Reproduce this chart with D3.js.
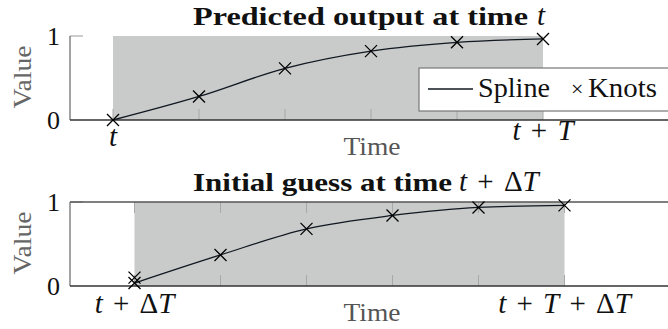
<!DOCTYPE html>
<html>
<head>
<meta charset="utf-8">
<script src="https://cdn.jsdelivr.net/npm/d3@7"></script>
<style>
  body { margin: 0; background: #fff; }
  svg { display: block; font-family: "Liberation Serif", "DejaVu Serif", serif; }
</style>
</head>
<body>
<svg width="668" height="329"></svg>
<script>
// knot positions are in units of one knot interval, t = 0
var topKnotX = [0, 1, 2, 3, 4, 5];
var topKnotY = [0, 0.28, 0.615, 0.82, 0.925, 0.965];
var bottomKnotX = [0.25, 1.25, 2.25, 3.25, 4.25, 5.25];
var bottomKnotY = [0.035, 0.37, 0.68, 0.84, 0.935, 0.96];
var bottomExtraX = [0.25];
var bottomExtraY = [0.1];
var yTicks = [0, 1];
var topTickLabels = [{x: 0, label: [["t", 1]], w: 0},
                     {x: 5, label: [["t", 1], [" + ", 0], ["T", 1]], w: 62}];
var bottomTickLabels = [{x: 0.25, label: [["t", 1], [" + Δ", 0], ["T", 1]], w: 90},
                        {x: 5.25, label: [["t", 1], [" + ", 0], ["T", 1], [" + Δ", 0], ["T", 1]], w: 134}];

var svg = d3.select("svg");
var x = d3.scaleLinear().domain([-0.5, 6.5]).range([70, 672]);

function cross(g, px, py, r) {
	g.append("path")
	    .attr("d", "M" + (px - r) + "," + (py - r) + "L" + (px + r) + "," + (py + r) +
	               "M" + (px - r) + "," + (py + r) + "L" + (px + r) + "," + (py - r))
	    .attr("stroke", "#000")
	    .attr("stroke-width", 1.3)
	    .attr("fill", "none");
}

// math label: widen the spaces round the operators a little towards width w
function mathText(g, px, py, parts, anchor, w) {
	var t = g.append("text")
	    .attr("x", px).attr("y", py)
	    .attr("text-anchor", anchor || "middle")
	    .attr("font-size", 29)
	    .attr("fill", "#111");
	var spaces = 0;
	parts.forEach(function (p) {
		t.append("tspan").text(p[0]).attr("font-style", p[1] ? "italic" : "normal");
		spaces += (p[0].match(/ /g) || []).length;
	});
	if (w && spaces) {
		var natural = t.node().getComputedTextLength();
		t.attr("word-spacing", Math.min(3, Math.max(0, (w - natural) / spaces)));
	}
	return t;
}

function fit(t, w) {
	t.attr("textLength", w).attr("lengthAdjust", "spacingAndGlyphs");
	return t;
}

function panel(opt) {
	var g = svg.append("g");
	var y = d3.scaleLinear().domain([0, 1]).range([opt.bottom, opt.top]);
	var knotX = opt.knotX, knotY = opt.knotY;

	// shaded horizon
	g.append("rect")
	    .attr("x", x(knotX[0]))
	    .attr("y", y(1))
	    .attr("width", x(knotX[knotX.length - 1]) - x(knotX[0]))
	    .attr("height", y(0) - y(1))
	    .attr("fill", "#c9caca");

	// ticks
	knotX.forEach(function (k) {
		g.append("line").attr("x1", x(k)).attr("x2", x(k))
		    .attr("y1", opt.bottom).attr("y2", opt.bottom - 11)
		    .attr("stroke", "#a8a8a8").attr("stroke-width", 1);
		if (opt.box) {
			g.append("line").attr("x1", x(k)).attr("x2", x(k))
			    .attr("y1", opt.top).attr("y2", opt.top + 11)
			    .attr("stroke", "#a8a8a8").attr("stroke-width", 1);
		}
	});
	g.append("line").attr("x1", 70).attr("x2", 83)
	    .attr("y1", y(1)).attr("y2", y(1))
	    .attr("stroke", "#999").attr("stroke-width", 1);

	// axis lines
	g.append("line").attr("x1", 70).attr("x2", 70)
	    .attr("y1", opt.top).attr("y2", opt.bottom)
	    .attr("stroke", "#666").attr("stroke-width", 1.2);
	g.append("line").attr("x1", 70).attr("x2", 672)
	    .attr("y1", opt.bottom).attr("y2", opt.bottom)
	    .attr("stroke", "#333").attr("stroke-width", 1.3);
	if (opt.box) {
		g.append("line").attr("x1", 70).attr("x2", 672)
		    .attr("y1", opt.top).attr("y2", opt.top)
		    .attr("stroke", "#555").attr("stroke-width", 1.3);
	}

	// y tick labels
	yTicks.forEach(function (v) {
		g.append("text")
		    .attr("x", 60).attr("y", y(v))
		    .attr("dy", "0.35em")
		    .attr("text-anchor", "end")
		    .attr("font-size", 26)
		    .attr("fill", "#111")
		    .text(v);
	});

	// x tick labels
	opt.tickLabels.forEach(function (d, i) {
		mathText(g, x(d.x), opt.bottom + opt.labelOffsets[i], d.label, "middle", d.w);
	});

	// axis labels
	fit(g.append("text")
	    .attr("transform", "translate(31," + ((opt.top + opt.bottom) / 2 - 1) + ") rotate(-90)")
	    .attr("text-anchor", "middle")
	    .attr("font-size", 26)
	    .attr("fill", "#666")
	    .text("Value"), 63);
	fit(g.append("text")
	    .attr("x", 372).attr("y", opt.bottom + 35)
	    .attr("text-anchor", "middle")
	    .attr("font-size", 26)
	    .attr("fill", "#555")
	    .text("Time"), 57);

	// spline through knots
	var line = d3.line()
	    .x(function (d, i) { return x(knotX[i]); })
	    .y(function (d) { return y(d); })
	    .curve(d3.curveMonotoneX);
	g.append("path")
	    .attr("d", line(knotY))
	    .attr("fill", "none")
	    .attr("stroke", "#101820")
	    .attr("stroke-width", 1.3);

	knotY.forEach(function (v, i) { cross(g, x(knotX[i]), y(v), 6); });
	if (opt.extraX) {
		opt.extraY.forEach(function (v, i) { cross(g, x(opt.extraX[i]), y(v), 6); });
	}

	// title
	fit(g.append("text")
	    .attr("x", 193).attr("y", opt.titleY)
	    .attr("font-size", 25)
	    .attr("font-weight", "bold")
	    .attr("fill", "#111")
	    .text(opt.title), opt.titleLen);
	mathText(g, opt.mathX, opt.titleY, opt.titleMath, "start", opt.mathLen);
	return g;
}

panel({
	top: 36, bottom: 120, box: false,
	knotX: topKnotX, knotY: topKnotY,
	tickLabels: topTickLabels, labelOffsets: [26, 20],
	title: "Predicted output at time", titleLen: 335, titleY: 25,
	mathX: 537, titleMath: [["t", 1]], mathLen: 0
});

panel({
	top: 202, bottom: 286, box: true,
	knotX: bottomKnotX, knotY: bottomKnotY,
	extraX: bottomExtraX, extraY: bottomExtraY,
	tickLabels: bottomTickLabels, labelOffsets: [27, 27],
	title: "Initial guess at time", titleLen: 259, titleY: 191,
	mathX: 459, titleMath: [["t", 1], [" + Δ", 0], ["T", 1]], mathLen: 90
});

// legend
var lg = svg.append("g");
lg.append("rect")
    .attr("x", 419).attr("y", 68)
    .attr("width", 270).attr("height", 43)
    .attr("fill", "#fff")
    .attr("stroke", "#777")
    .attr("stroke-width", 1.2);
lg.append("line")
    .attr("x1", 428).attr("x2", 473)
    .attr("y1", 89).attr("y2", 89)
    .attr("stroke", "#101820").attr("stroke-width", 1.3);
fit(lg.append("text")
    .attr("x", 478).attr("y", 97)
    .attr("font-size", 27)
    .attr("fill", "#111")
    .text("Spline"), 72);
lg.append("text")
    .attr("x", 571).attr("y", 96)
    .attr("font-size", 22)
    .attr("fill", "#111")
    .text("×");
fit(lg.append("text")
    .attr("x", 588).attr("y", 97)
    .attr("font-size", 27)
    .attr("fill", "#111")
    .text("Knots"), 69);
</script>
</body>
</html>
